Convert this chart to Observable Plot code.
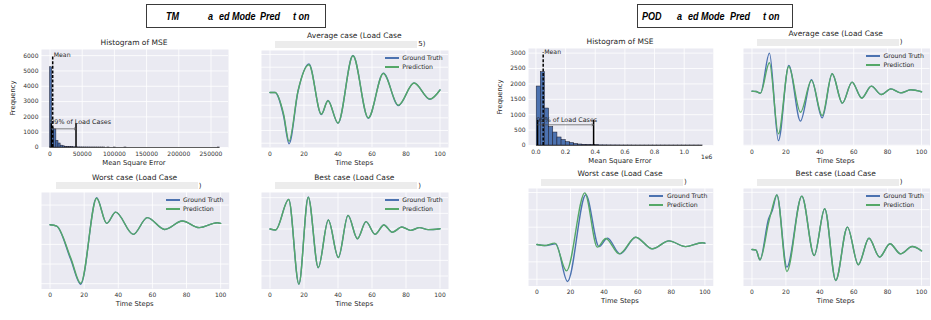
<!DOCTYPE html>
<html>
<head>
<meta charset="utf-8">
<script src="https://cdn.jsdelivr.net/npm/d3@7"></script>
<script src="https://cdn.jsdelivr.net/npm/@observablehq/plot@0.6"></script>
<style>
html,body{margin:0;padding:0;background:#fff;}
#chart{position:relative;width:931px;height:320px;overflow:hidden;background:#fff;font-family:"DejaVu Sans",sans-serif;color:#262626;}
#chart svg{position:absolute;overflow:visible;}
.t{position:absolute;white-space:pre;line-height:1;}
.redact{position:absolute;background:#ececec;}
.boxtitle{position:absolute;border:1px solid #3a3a3a;box-sizing:border-box;background:#fff;}
.bt{position:absolute;font:italic bold 10.5px "Liberation Sans",Arial,sans-serif;color:#000;line-height:1;transform-origin:0 50%;transform:translateY(-50%) scaleX(0.86);white-space:pre;}
.sw{position:absolute;height:2px;}
</style>
</head>
<body>
<div id="chart"></div>
<script>
// ================= DATA =================
const timeTicks = [0, 20, 40, 60, 80, 100];
const seriesNames = ["Ground Truth", "Prediction"];

// --- TMM histogram of MSE ---
const tmmHistStart = 0;
const tmmHistBinWidth = 3300;
const tmmHistCounts = [5240, 1250, 1180, 430, 260, 120, 80, 50, 35, 25, 18, 14, 10, 8, 6, 5, 4, 3, 3, 2,
  2, 2, 1, 1, 1, 1, 0, 1, 0, 0, 1, 0, 0, 0, 0, 1, 0, 0, 0, 0,
  0, 0, 0, 0, 0, 0, 0, 0, 0, 0, 0, 0, 0, 0, 0, 0, 0, 0, 0, 0,
  0, 0, 0, 0, 0, 0, 0, 0, 0, 0, 0, 0, 0, 0, 0, 0, 0, 0, 0, 1];
const tmmMean = 4200, tmmMeanTop = 6000;
const tmmRange = [2000, 40400], tmmRangeTop = 1550, tmmArrowLevel = 1220, tmmRangeTextLevel = 1650;
const tmmHistXTicks = [0, 50000, 100000, 150000, 200000, 250000];
const tmmHistYTicks = [0, 1000, 2000, 3000, 4000, 5000, 6000];

// --- POD histogram of MSE ---
const podHistStart = 5000;
const podHistBinWidth = 28000;
const podHistCounts = [1915, 2380, 1200, 600, 420, 260, 180, 110, 80, 50, 32, 22, 15, 11, 8, 6, 5, 4, 3, 3,
  2, 2, 2, 1, 1, 1, 1, 1, 1, 1, 1, 1, 1, 1, 1, 1, 1, 1, 1, 1];
const podMean = 49000, podMeanTop = 3000;
const podRange = [11000, 389000], podRangeTop = 812, podArrowLevel = 672, podRangeTextLevel = 835;
const podHistXTicks = [0, 200000, 400000, 600000, 800000, 1000000];
const podHistYTicks = [0, 500, 1000, 1500, 2000, 2500, 3000];

// --- TMM average case ---
const tmmAvgT     = [0, 3, 8, 11.2, 16.5, 22.9, 30.2, 34.1, 40, 48.8, 57.8, 66.7, 75.5, 84.7, 94.1, 100];
const tmmAvgTruth = [0, 0, -1.85, -4.05, 0.1, 2.26, -1.74, -0.63, -2.42, 2.92, -2.03, 1.53, -1.03, 0.76, -0.53, 0.21];
const tmmAvgPred  = [0, 0, -1.7, -3.85, 0.15, 2.2, -1.7, -0.65, -2.4, 2.9, -2.0, 1.5, -1.0, 0.75, -0.52, 0.2];

// --- TMM worst case ---
const tmmWorstT     = [0, 3.9, 12.1, 18, 27.3, 33.2, 38.5, 48.8, 57, 67.2, 77.5, 87.5, 98, 100];
const tmmWorstTruth = [0, -0.07, -1.76, -3.03, 1.37, 0.07, 0.64, -0.49, 0.36, -0.24, 0.19, -0.15, 0.1, 0.07];
const tmmWorstPred  = [0, -0.07, -1.68, -2.98, 1.35, 0.07, 0.64, -0.49, 0.36, -0.24, 0.19, -0.15, 0.1, 0.07];

// --- TMM best case ---
const tmmBestT     = [0, 3.3, 11, 17, 22.5, 28.4, 34.3, 40.2, 45.9, 51.4, 56.5, 61.8, 67, 72, 77.5, 82.7, 88, 93, 100];
const tmmBestTruth = [0, -0.06, 1.89, -3.53, 2.04, -2.47, 0.57, -1.83, 0.87, -0.62, 0.47, -0.34, 0.26, -0.21, 0.13, -0.09, 0.09, -0.04, 0.02];
const tmmBestPred  = [0, -0.06, 1.88, -3.52, 2.03, -2.46, 0.57, -1.82, 0.87, -0.62, 0.47, -0.34, 0.26, -0.21, 0.13, -0.09, 0.09, -0.04, 0.02];

// --- POD average case ---
const podAvgT     = [0, 2.4, 5, 10.3, 15.6, 21.7, 28.6, 35.1, 41.4, 47.3, 53.3, 59, 64.7, 70.4, 76.3, 81.9, 87.8, 93.7, 100];
const podAvgTruth = [0.02, 0, -0.11, 2.5, -3.2, 1.7, -1.93, 0.76, -1.72, 1.15, -0.76, 0.61, -0.43, 0.35, -0.2, 0.17, -0.09, 0.11, -0.02];
const podAvgPred  = [0.02, 0, -0.11, 1.87, -2.76, 1.63, -1.35, 0.72, -1.57, 1.15, -0.76, 0.61, -0.43, 0.35, -0.2, 0.17, -0.09, 0.11, -0.02];

// --- POD worst case ---
const podWorstT     = [0, 4.4, 11.3, 18.2, 29.1, 37, 42, 49.5, 58.8, 68.7, 78.6, 88.5, 98.4, 100];
const podWorstTruth = [0, -0.06, 0.04, -2.13, 2.87, -0.12, 0.37, -0.54, 0.42, -0.25, 0.21, -0.12, 0.1, 0.08];
const podWorstPredT = [0, 4.4, 10.7, 17.6, 28.5, 36, 41, 49, 58.8, 68.7, 78.6, 88.5, 98.4, 100];
const podWorstPred  = [0, -0.06, 0.08, -1.52, 2.98, -0.15, 0.35, -0.54, 0.42, -0.25, 0.21, -0.12, 0.1, 0.08];

// --- POD best case ---
const podBestT     = [0, 2.4, 4.7, 9.8, 12, 14.7, 20.6, 29.4, 36.7, 42.9, 49.4, 56.3, 62.7, 69, 75.3, 81.4, 87.6, 94.5, 100];
const podBestTruth = [0, -0.04, -0.6, 1.77, 2.25, 3.15, -1.02, 3.08, -0.35, 2.35, -1.79, 1.29, -0.88, 0.65, -0.44, 0.33, -0.25, 0.17, -0.08];
const podBestPred  = [0, -0.04, -0.6, 1.55, 2.4, 3.15, -1.27, 3.08, -0.35, 2.35, -1.79, 1.29, -0.88, 0.65, -0.44, 0.33, -0.25, 0.17, -0.08];

// --- texts ---
const histTitle = "Histogram of MSE";
const histXLabel = "Mean Square Error";
const histYLabel = "Frequency";
const timeLabel = "Time Steps";
const meanLabel = "Mean";
const rangeLabel = "99% of Load Cases";
const tmmHeading = [["TM", 165.7], ["a", 208.3], ["ed Mode", 219], ["Pred", 260], ["t on", 293.3]];
const podHeading = [["POD", 642.3], ["a", 677.3], ["ed Mode", 688], ["Pred", 729.5], ["t on", 763.3]];

// ================= STYLE / LAYOUT =================
const BG = "#eaeaf2", BLUE = "#4c72b0", GREEN = "#55a868", TXT = "#262626";
const root = document.getElementById("chart");

function place(el, left, top) { el.style.left = left + "px"; el.style.top = top + "px"; root.appendChild(el); }
function text(str, x, y, o = {}) {
  const d = document.createElement("div");
  d.className = "t"; d.textContent = str;
  d.style.fontSize = (o.size || 7) + "px"; d.style.color = o.color || TXT;
  const a = o.anchor || "middle";
  const tx = a === "middle" ? "-50%" : a === "end" ? "-100%" : "0";
  d.style.transform = `translate(${tx},-50%)` + (o.rotate ? ` rotate(${o.rotate}deg)` : "");
  place(d, x, y);
}
function box(cls, x, y, w, h) {
  const d = document.createElement("div"); d.className = cls;
  d.style.width = w + "px"; d.style.height = h + "px"; place(d, x, y); return d;
}
const gridStyle = {stroke: "white", strokeOpacity: 1, strokeWidth: 0.8};
const baseStyle = {fontFamily: "DejaVu Sans, sans-serif", fontSize: "6px", color: "#333", background: "none", overflow: "visible"};

function linePanel(p) {
  const [l, r, t, b] = p.frame;
  const ml = 4, mr = 4, mt = 2, mb = 14;
  const truth = p.t.map((tt, i) => ({t: tt, v: p.truth[i], s: seriesNames[0]}));
  const pred = (p.predT || p.t).map((tt, i) => ({t: tt, v: p.pred[i], s: seriesNames[1]}));
  const svg = Plot.plot({
    width: r - l + ml + mr, height: b - t + mt + mb,
    marginLeft: ml, marginRight: mr, marginTop: mt, marginBottom: mb,
    style: baseStyle,
    x: {domain: p.xDomain, label: null},
    y: {domain: p.yDomain, label: null, axis: null},
    marks: [
      Plot.frame({fill: BG, stroke: "none"}),
      Plot.gridX(timeTicks, gridStyle),
      Plot.gridY(p.yGrid, gridStyle),
      Plot.axisX(timeTicks, {tickSize: 0, tickPadding: 4, label: null, fontSize: 6}),
      Plot.line(truth, {x: "t", y: "v", stroke: BLUE, strokeWidth: 1.4, curve: "monotone-x"}),
      Plot.line(pred, {x: "t", y: "v", stroke: GREEN, strokeWidth: 1.4, curve: "monotone-x"})
    ]
  });
  place(svg, l - ml, t - mt);
  const cx = (l + r) / 2;
  text(p.title, cx, t - 13.8, {size: 7.5});
  box("redact", cx - 79, t - 9.5, 142, 7);
  text(p.tail, cx + 64, t - 6, {size: 7, anchor: "start"});
  text(timeLabel, cx, b + 15.5, {size: 6.8});
  [[seriesNames[0], BLUE, 8.3], [seriesNames[1], GREEN, 17.4]].forEach(([name, col, dy]) => {
    const s = box("sw", Math.round(r - 63), Math.round(t + dy - 1), 14, 2); s.style.background = col;
    text(name, r - 45.5, t + dy, {size: 6.2, anchor: "start"});
  });
}

function histPanel(p) {
  const [l, r, t, b] = p.frame;
  const ml = 34, mr = 4, mt = 4, mb = 14;
  const bins = p.counts.map((c, i) => ({x0: p.start + i * p.width, x1: p.start + (i + 1) * p.width, count: c}));
  const arrow = [{x1: p.range[0], x2: p.range[1], y: p.arrowLevel}];
  const svg = Plot.plot({
    width: r - l + ml + mr, height: b - t + mt + mb,
    marginLeft: ml, marginRight: mr, marginTop: mt, marginBottom: mb,
    style: baseStyle,
    x: {domain: p.xDomain, label: null},
    y: {domain: p.yDomain, label: null},
    marks: [
      Plot.frame({fill: BG, stroke: "none"}),
      Plot.gridX(p.xTicks, gridStyle),
      Plot.gridY(p.yTicks, gridStyle),
      Plot.axisX(p.xTicks, {tickSize: 0, tickPadding: 4, label: null, tickFormat: p.xFormat, fontSize: 6}),
      Plot.axisY(p.yTicks, {tickSize: 0, tickPadding: 3, label: null, tickFormat: d3.format("d"), fontSize: 6}),
      Plot.rectY(bins, {x1: "x0", x2: "x1", y: "count", fill: BLUE, stroke: "#1a1a2a", strokeWidth: 0.5}),
      Plot.ruleY([0], {x1: p.start, x2: p.start + p.counts.length * p.width, stroke: "#333", strokeWidth: 0.8}),
      Plot.ruleX([p.mean], {y1: 0, y2: p.meanTop, stroke: "black", strokeWidth: 1.5, strokeDasharray: "3,1.6"}),
      Plot.ruleX(p.range, {y1: 0, y2: p.rangeTop, stroke: "black", strokeWidth: 1.5}),
      Plot.arrow(arrow, {x1: "x1", x2: "x2", y1: "y", y2: "y", stroke: "#555", strokeWidth: 0.7, headLength: 4}),
      Plot.text([meanLabel], {x: p.mean, y: p.meanTop, text: d => d, textAnchor: "start", lineAnchor: "middle", dx: 1, dy: -1, fontSize: 6.2, fill: TXT}),
      Plot.text([rangeLabel], {x: p.range[0], y: p.rangeTextLevel, text: d => d, textAnchor: "start", lineAnchor: "middle", dx: -1, fontSize: 6.4, fill: TXT})
    ]
  });
  place(svg, l - ml, t - mt);
  const cx = (l + r) / 2;
  text(histTitle, cx, t - 6.5, {size: 7.5});
  text(histXLabel, cx, b + 16, {size: 6.8});
  text(histYLabel, p.yLabelX, (t + b) / 2, {size: 6.8, rotate: -90});
}

function heading(frags, bx, by, bw, bh) {
  box("boxtitle", bx, by, bw, bh);
  frags.forEach(([s, x]) => {
    const d = document.createElement("div"); d.className = "bt"; d.textContent = s;
    place(d, x, by + bh / 2);
  });
}

// ================= BUILD =================
heading(tmmHeading, 146, 4, 180, 23.5);
heading(podHeading, 636.7, 4.3, 156.5, 23.7);

histPanel({frame: [40.5, 227.5, 49, 147], start: tmmHistStart, width: tmmHistBinWidth, counts: tmmHistCounts,
  xDomain: [-13200, 277200], yDomain: [0, 6400], xTicks: tmmHistXTicks, yTicks: tmmHistYTicks, xFormat: d3.format("d"),
  mean: tmmMean, meanTop: tmmMeanTop, range: tmmRange, rangeTop: tmmRangeTop, arrowLevel: tmmArrowLevel,
  rangeTextLevel: tmmRangeTextLevel, yLabelX: 13});

histPanel({frame: [527.6, 712.4, 48, 145], start: podHistStart, width: podHistBinWidth, counts: podHistCounts,
  xDomain: [-50000, 1196000], yDomain: [0, 3150], xTicks: podHistXTicks, yTicks: podHistYTicks, xFormat: d => (d / 1e6).toFixed(1),
  mean: podMean, meanTop: podMeanTop, range: podRange, rangeTop: podRangeTop, arrowLevel: podArrowLevel,
  rangeTextLevel: podRangeTextLevel, yLabelX: 500});
text("1e6", 712.4, 157, {size: 6, anchor: "end"});

linePanel({frame: [260.8, 447.8, 50, 147], xDomain: [-5, 105], yDomain: [-4.34, 3.32], yGrid: [-4, -3, -2, -1, 0, 1, 2, 3],
  t: tmmAvgT, truth: tmmAvgTruth, pred: tmmAvgPred, title: "Average case (Load Case", tail: "5)"});
linePanel({frame: [40.8, 228.5, 191.5, 288], xDomain: [-5, 105], yDomain: [-3.27, 1.64], yGrid: [-3, -2, -1, 0, 1],
  t: tmmWorstT, truth: tmmWorstTruth, pred: tmmWorstPred, title: "Worst case (Load Case", tail: ")"});
linePanel({frame: [260.8, 447.8, 191.5, 288], xDomain: [-5, 105], yDomain: [-3.83, 2.33], yGrid: [-3, -2, -1, 0, 1, 2],
  t: tmmBestT, truth: tmmBestTruth, pred: tmmBestPred, title: "Best case (Load Case", tail: ")"});
linePanel({frame: [742.5, 929, 48, 145], xDomain: [-5, 105], yDomain: [-3.52, 2.8], yGrid: [-3.5, -2.5, -1.5, -0.5, 0.5, 1.5, 2.5],
  t: podAvgT, truth: podAvgTruth, pred: podAvgPred, title: "Average case (Load Case", tail: ")"});
linePanel({frame: [527.6, 712.4, 188, 285.5], xDomain: [-5, 105], yDomain: [-2.39, 3.23], yGrid: [-2, -1, 0, 1, 2, 3],
  t: podWorstT, predT: podWorstPredT, truth: podWorstTruth, pred: podWorstPred, title: "Worst case (Load Case", tail: ")"});
linePanel({frame: [742.5, 929, 188, 285.5], xDomain: [-5, 105], yDomain: [-2.11, 3.52], yGrid: [-1.7, -0.7, 0.3, 1.3, 2.3, 3.3],
  t: podBestT, truth: podBestTruth, pred: podBestPred, title: "Best case (Load Case", tail: ")"});
</script>
</body>
</html>
